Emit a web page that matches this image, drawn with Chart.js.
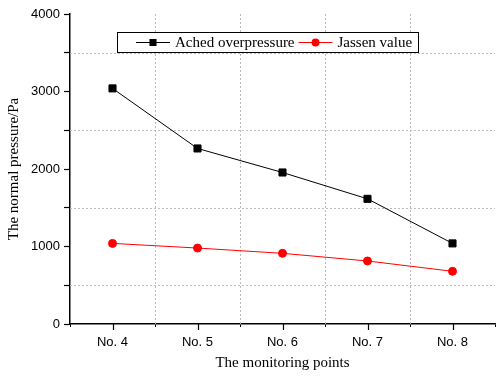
<!DOCTYPE html>
<html>
<head>
<meta charset="utf-8">
<script src="https://cdn.jsdelivr.net/npm/chart.js@4/dist/chart.umd.min.js"></script>
<style>
  html, body { margin: 0; padding: 0; background: #fff; }
  #wrap { width: 501px; height: 376px; }
</style>
</head>
<body>
<div id="wrap"><canvas id="c" width="501" height="376"></canvas></div>
<script>
// Monitoring points and pressures (Pa)
const points = ['No. 4', 'No. 5', 'No. 6', 'No. 7', 'No. 8'];
const achedOverpressure = [3040, 2265, 1955, 1615, 1040];
const jassenValue = [1040, 980, 912, 813, 680];
const seriesNames = ['Ached overpressure', 'Jassen value'];
const yTicks = [0, 1000, 2000, 3000, 4000];

const SANS = '"Liberation Sans", Arial, sans-serif';
const SERIF = '"Liberation Serif", "Times New Roman", serif';
const GRID = '#bcbcbc';

// Legend drawn as a framed box with line + marker samples
const boxLegend = {
  id: 'boxLegend',
  afterDraw(chart, args, opts) {
    const ctx = chart.ctx;
    ctx.save();
    ctx.fillStyle = '#fff';
    ctx.fillRect(opts.x, opts.y, opts.w, opts.h);
    ctx.strokeStyle = '#000';
    ctx.lineWidth = 1;
    ctx.strokeRect(opts.x + 0.5, opts.y + 0.5, opts.w, opts.h);
    const cy = opts.y + opts.h / 2 + 0.5;
    ctx.font = '15px ' + SERIF;
    ctx.textBaseline = 'middle';
    let x = opts.x + 19;
    chart.data.datasets.forEach(ds => {
      ctx.strokeStyle = ds.borderColor;
      ctx.lineWidth = 1;
      ctx.beginPath();
      ctx.moveTo(x, cy);
      ctx.lineTo(x + 34, cy);
      ctx.stroke();
      ctx.fillStyle = ds.pointBackgroundColor;
      ctx.beginPath();
      if (ds.pointStyle === 'rect') {
        const s = ds.pointRadius * Math.SQRT2;
        ctx.rect(x + 17 - s / 2, cy - s / 2, s, s);
      } else {
        ctx.arc(x + 17, cy, ds.pointRadius, 0, Math.PI * 2);
      }
      ctx.fill();
      ctx.fillStyle = '#000';
      ctx.fillText(ds.label, x + 39, cy + 1);
      x += 39 + ctx.measureText(ds.label).width + 4;
    });
    ctx.restore();
  }
};

// Dotted grid lines: between categories on x, at the half-thousands on y
const dottedGrid = {
  id: 'dottedGrid',
  beforeDatasetsDraw(chart) {
    const { ctx, chartArea: a, scales: { x: xs, y: ys } } = chart;
    ctx.save();
    ctx.strokeStyle = GRID;
    ctx.lineWidth = 1;
    ctx.setLineDash([2, 2]);
    for (let i = 1; i < points.length; i++) {
      const px = Math.round((xs.getPixelForValue(i - 1) + xs.getPixelForValue(i)) / 2) + 0.5;
      ctx.beginPath();
      ctx.moveTo(px, a.top);
      ctx.lineTo(px, a.bottom);
      ctx.stroke();
    }
    ys.ticks.forEach(t => {
      if (t.value % 1000 === 0) return;
      const py = Math.round(ys.getPixelForValue(t.value)) + 0.5;
      ctx.beginPath();
      ctx.moveTo(a.left, py);
      ctx.lineTo(a.right, py);
      ctx.stroke();
    });
    ctx.restore();
  }
};

// Short tick marks at the category centres of the x axis
const centreTicks = {
  id: 'centreTicks',
  afterDraw(chart) {
    const xs = chart.scales.x;
    const ctx = chart.ctx;
    ctx.save();
    ctx.strokeStyle = '#000';
    ctx.lineWidth = 1.2;
    points.forEach((p, i) => {
      const px = Math.round(xs.getPixelForValue(i)) + 0.5;
      ctx.beginPath();
      ctx.moveTo(px, xs.top);
      ctx.lineTo(px, xs.top + 6);
      ctx.stroke();
    });
    ctx.restore();
  }
};

new Chart(document.getElementById('c'), {
  type: 'line',
  data: {
    labels: points,
    datasets: [
      {
        label: seriesNames[0],
        data: achedOverpressure,
        borderColor: '#000',
        backgroundColor: '#000',
        pointBackgroundColor: '#000',
        pointBorderColor: '#000',
        pointStyle: 'rect',
        pointRadius: 5,
        borderWidth: 1,
        tension: 0
      },
      {
        label: seriesNames[1],
        data: jassenValue,
        borderColor: '#ff0000',
        backgroundColor: '#ff0000',
        pointBackgroundColor: '#ff0000',
        pointBorderColor: '#ff0000',
        pointStyle: 'circle',
        pointRadius: 4,
        borderWidth: 1,
        tension: 0
      }
    ]
  },
  options: {
    responsive: false,
    animation: false,
    devicePixelRatio: 1,
    layout: { padding: { top: 14, right: 5, left: 0, bottom: 0 } },
    plugins: {
      legend: { display: false },
      tooltip: { enabled: false },
      boxLegend: { x: 117, y: 32, w: 301, h: 20 }
    },
    scales: {
      x: {
        offset: true,
        grid: {
          offset: true,
          drawOnChartArea: false,
          tickColor: '#000',
          tickLength: 3,
          tickWidth: 1
        },
        border: { color: '#000', width: 1.5 },
        ticks: {
          color: '#000',
          font: { family: SANS, size: 13 },
          padding: 8,
          maxRotation: 0
        },
        title: {
          display: true,
          text: 'The monitoring points',
          color: '#000',
          font: { family: SERIF, size: 15 },
          padding: { top: 2, bottom: 4 }
        },
        afterFit(scale) { scale.height = 52; }
      },
      y: {
        min: 0,
        max: 4000,
        afterBuildTicks(scale) {
          const t = [];
          for (let v = 0; v <= 4000; v += 500) t.push({ value: v });
          scale.ticks = t;
        },
        grid: {
          drawOnChartArea: false,
          tickColor: '#000',
          tickLength: 6,
          tickWidth: 1.2
        },
        border: { color: '#000', width: 1.5 },
        ticks: {
          color: '#000',
          font: { family: SANS, size: 13 },
          padding: 4,
          autoSkip: false,
          callback: v => yTicks.includes(v) ? String(v) : ''
        },
        title: {
          display: true,
          text: 'The normal pressure/Pa',
          color: '#000',
          font: { family: SERIF, size: 15 },
          padding: { top: 5, bottom: 0 }
        },
        afterFit(scale) { scale.width = 70; }
      }
    }
  },
  plugins: [dottedGrid, boxLegend, centreTicks]
});
</script>
</body>
</html>
